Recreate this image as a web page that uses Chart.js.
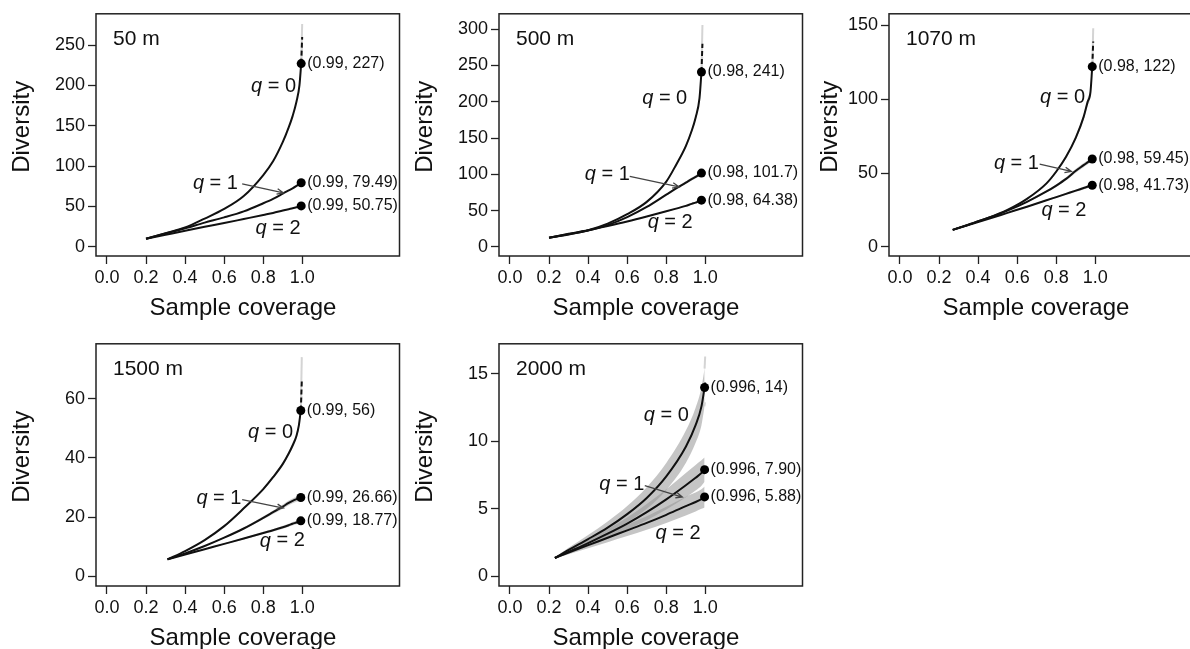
<!DOCTYPE html>
<html>
<head>
<meta charset="utf-8">
<script src="https://cdn.jsdelivr.net/npm/chart.js@4.4.1/dist/chart.umd.min.js"></script>
<style>
  html, body { margin: 0; padding: 0; background: #fff; overflow: hidden; }
  body { width: 1190px; height: 649px; position: relative; }
  .panel { position: absolute; width: 404px; height: 320px; }
</style>
</head>
<body>
<div class="panel" style="left:0px;top:0px"><canvas id="p50" width="404" height="320"></canvas></div>
<div class="panel" style="left:403px;top:0px"><canvas id="p500" width="404" height="320"></canvas></div>
<div class="panel" style="left:793px;top:0px"><canvas id="p1070" width="404" height="320"></canvas></div>
<div class="panel" style="left:0px;top:330px"><canvas id="p1500" width="404" height="320"></canvas></div>
<div class="panel" style="left:403px;top:330px"><canvas id="p2000" width="404" height="320"></canvas></div>
<script>
const FONT = '"Liberation Sans", Arial, Helvetica, sans-serif';
const X_TICKS = [0, 0.2, 0.4, 0.6, 0.8, 1.0];

// 50 m
const COV_50 = [0.2, 0.3, 0.4, 0.5, 0.6, 0.7, 0.8, 0.85, 0.9, 0.93, 0.95, 0.97, 0.985, 0.994];
const Q0_50 = [10, 17, 24, 35, 47, 63, 89, 106, 130, 148, 162, 180, 200, 227];
const Q1_50 = [10, 16.5, 23, 30, 36.5, 44, 54, 59.5, 66, 70, 72.5, 75.5, 78, 79.49];
const Q2_50 = [10, 15, 20, 24.8, 29.5, 34.5, 39.5, 42, 45, 46.7, 47.8, 49, 50, 50.75];
const EXT_COV_50 = [0.994, 0.999];
const EXT_Q0_50 = [227, 260];
const EXT_LO_50 = [227, 248];
const EXT_HI_50 = [227, 276];
const Y_TICKS_50 = [0, 50, 100, 150, 200, 250];
const END_LABELS_50 = ['(0.99, 227)', '(0.99, 79.49)', '(0.99, 50.75)'];

// 500 m
const COV_500 = [0.2, 0.3, 0.4, 0.5, 0.6, 0.7, 0.8, 0.85, 0.9, 0.93, 0.95, 0.97, 0.98];
const Q0_500 = [12.5, 17.5, 23, 32, 45, 62, 90, 113, 139, 160, 178, 205, 241];
const Q1_500 = [12.5, 17, 22.5, 30, 41, 55, 72, 80.5, 88.5, 93.5, 96.5, 100, 101.7];
const Q2_500 = [12.5, 18, 23, 28.8, 35, 41.8, 49, 52.7, 56.5, 59.3, 61, 63, 64.38];
const LO0_500 = [12.5, 17.4, 22.8, 31.7, 44.5, 61.2, 88.7, 111.2, 136.6, 157, 174.5, 201, 236];
const HI0_500 = [12.5, 17.6, 23.2, 32.3, 45.5, 62.8, 91.3, 114.8, 141.4, 163, 181.5, 209, 246];
const LO1_500 = [12.5, 16.9, 22.3, 29.6, 40.4, 54.1, 70.7, 78.9, 86.6, 91.4, 94.3, 97.6, 99.2];
const HI1_500 = [12.5, 17.1, 22.7, 30.4, 41.6, 55.9, 73.3, 82.1, 90.4, 95.6, 98.7, 102.4, 104.2];
const LO2_500 = [12.5, 17.9, 22.8, 28.5, 34.6, 41.2, 48.2, 51.8, 55.4, 58.1, 59.7, 61.6, 62.9];
const HI2_500 = [12.5, 18.1, 23.2, 29.1, 35.4, 42.4, 49.8, 53.6, 57.6, 60.5, 62.3, 64.4, 65.9];
const EXT_COV_500 = [0.98, 0.985];
const EXT_Q0_500 = [241, 280];
const EXT_LO_500 = [241, 262];
const EXT_HI_500 = [241, 306];
const Y_TICKS_500 = [0, 50, 100, 150, 200, 250, 300];
const END_LABELS_500 = ['(0.98, 241)', '(0.98, 101.7)', '(0.98, 64.38)'];

// 1070 m
const COV_1070 = [0.27, 0.35, 0.45, 0.55, 0.65, 0.75, 0.8, 0.85, 0.9, 0.94, 0.96, 0.975, 0.984];
const Q0_1070 = [11.5, 15, 19.5, 25, 32.5, 43, 51, 61, 74, 88, 98, 105, 122];
const Q1_1070 = [11.5, 15, 19.5, 24.5, 30.5, 37.5, 41.5, 46, 51.5, 55.3, 57.2, 58.6, 59.45];
const Q2_1070 = [11.5, 14.7, 18.8, 23, 27.2, 31.5, 33.7, 35.9, 38.1, 39.8, 40.7, 41.3, 41.73];
const LO0_1070 = [11.5, 14.9, 19.3, 24.7, 32, 42.2, 50, 59.8, 72.5, 86, 95.5, 102, 118];
const HI0_1070 = [11.5, 15.1, 19.7, 25.3, 33, 43.8, 52, 62.2, 75.5, 90, 100.5, 108, 126];
const LO1_1070 = [11.5, 14.9, 19.3, 24.2, 30, 36.8, 40.6, 44.9, 50.2, 53.9, 55.7, 57.1, 57.9];
const HI1_1070 = [11.5, 15.1, 19.7, 24.8, 31, 38.2, 42.4, 47.1, 52.8, 56.7, 58.7, 60.1, 61.0];
const LO2_1070 = [11.5, 14.6, 18.6, 22.7, 26.8, 31, 33.1, 35.2, 37.3, 38.9, 39.7, 40.3, 40.7];
const HI2_1070 = [11.5, 14.8, 19.0, 23.3, 27.6, 32, 34.3, 36.6, 38.9, 40.7, 41.7, 42.3, 42.8];
const EXT_COV_1070 = [0.984, 0.989];
const EXT_Q0_1070 = [122, 139];
const EXT_LO_1070 = [122, 131];
const EXT_HI_1070 = [122, 148];
const Y_TICKS_1070 = [0, 50, 100, 150];
const END_LABELS_1070 = ['(0.98, 122)', '(0.98, 59.45)', '(0.98, 41.73)'];

// 1500 m
const COV_1500 = [0.31, 0.4, 0.5, 0.6, 0.7, 0.8, 0.85, 0.9, 0.93, 0.95, 0.97, 0.982, 0.992];
const Q0_1500 = [5.8, 8.6, 12.3, 17, 23, 29.5, 33.5, 38, 41.5, 44.2, 47.5, 51, 56];
const Q1_1500 = [5.8, 7.8, 10.3, 13.1, 16.2, 19.8, 21.7, 23.6, 24.8, 25.5, 26.1, 26.4, 26.66];
const Q2_1500 = [5.8, 7.4, 9.2, 11, 12.8, 14.7, 15.6, 16.6, 17.3, 17.8, 18.2, 18.5, 18.77];
const LO0_1500 = [5.8, 8.55, 12.2, 16.8, 22.7, 29.1, 33, 37.4, 40.8, 43.4, 46.6, 50, 54.8];
const HI0_1500 = [5.8, 8.65, 12.4, 17.2, 23.3, 29.9, 34, 38.6, 42.2, 45, 48.4, 52, 57.2];
const LO1_1500 = [5.8, 7.75, 10.2, 12.9, 15.9, 19.3, 21.1, 22.9, 24.0, 24.7, 25.2, 25.5, 25.8];
const HI1_1500 = [5.8, 7.85, 10.4, 13.3, 16.5, 20.3, 22.3, 24.3, 25.6, 26.3, 27.0, 27.3, 27.5];
const LO2_1500 = [5.8, 7.37, 9.1, 10.8, 12.5, 14.3, 15.2, 16.1, 16.8, 17.2, 17.6, 17.9, 18.2];
const HI2_1500 = [5.8, 7.43, 9.3, 11.2, 13.1, 15.1, 16.0, 17.1, 17.8, 18.4, 18.8, 19.1, 19.35];
const EXT_COV_1500 = [0.992, 0.997];
const EXT_Q0_1500 = [56, 65.8];
const EXT_LO_1500 = [56, 61];
const EXT_HI_1500 = [56, 74];
const Y_TICKS_1500 = [0, 20, 40, 60];
const END_LABELS_1500 = ['(0.99, 56)', '(0.99, 26.66)', '(0.99, 18.77)'];

// 2000 m
const COV_2000 = [0.23, 0.3, 0.4, 0.5, 0.6, 0.7, 0.8, 0.9, 0.95, 0.98, 0.996];
const Q0_2000 = [1.35, 1.95, 2.75, 3.6, 4.6, 5.8, 7.4, 9.6, 11.2, 12.6, 14];
const Q1_2000 = [1.35, 1.8, 2.45, 3.15, 3.9, 4.75, 5.7, 6.75, 7.3, 7.65, 7.9];
const Q2_2000 = [1.35, 1.75, 2.3, 2.85, 3.4, 3.95, 4.55, 5.2, 5.5, 5.72, 5.88];
const LO0_2000 = [1.3, 1.8, 2.45, 3.15, 4.0, 5.0, 6.4, 8.4, 9.9, 11.2, 12.6];
const HI0_2000 = [1.4, 2.1, 3.05, 4.05, 5.2, 6.6, 8.4, 10.8, 12.5, 14.0, 15.4];
const LO1_2000 = [1.3, 1.66, 2.2, 2.8, 3.45, 4.15, 4.95, 5.85, 6.35, 6.7, 7.0];
const HI1_2000 = [1.4, 1.94, 2.7, 3.5, 4.35, 5.35, 6.45, 7.65, 8.25, 8.6, 8.8];
const LO2_2000 = [1.3, 1.62, 2.08, 2.52, 2.98, 3.45, 3.95, 4.5, 4.8, 5.0, 5.1];
const HI2_2000 = [1.4, 1.88, 2.52, 3.18, 3.82, 4.45, 5.15, 5.9, 6.2, 6.45, 6.65];
const EXT_COV_2000 = [0.996, 0.999];
const EXT_Q0_2000 = [14, 14.4];
const EXT_LO_2000 = [12.6, 12.9];
const EXT_HI_2000 = [15.4, 16.3];
const Y_TICKS_2000 = [0, 5, 10, 15];
const END_LABELS_2000 = ['(0.996, 14)', '(0.996, 7.90)', '(0.996, 5.88)'];

// layout of each panel (label spots are in data units)
const PANELS = [
  { id: 'p50', title: '50 m', yMin: -11.3, yMax: 288.7, yTitleDx: 73.5,
    cov: COV_50, q: [Q0_50, Q1_50, Q2_50], bands: null, bandColor: null,
    ext: [EXT_COV_50, EXT_Q0_50, EXT_LO_50, EXT_HI_50], yTicks: Y_TICKS_50, endLabels: END_LABELS_50,
    qPos: [[0.853, 198.4], [0.555, 79], [0.876, 23.2]], arrow: [[0.692, 78], [0.903, 67]] },
  { id: 'p500', title: '500 m', yMin: -12.6, yMax: 321.3, yTitleDx: 74,
    cov: COV_500, q: [Q0_500, Q1_500, Q2_500],
    bands: [[LO0_500, HI0_500], [LO1_500, HI1_500], [LO2_500, HI2_500]], bandColor: 'rgba(150,150,150,0.45)',
    ext: [EXT_COV_500, EXT_Q0_500, EXT_LO_500, EXT_HI_500], yTicks: Y_TICKS_500, endLabels: END_LABELS_500,
    qPos: [[0.792, 204.6], [0.498, 99.6], [0.82, 33]], arrow: [[0.613, 97.3], [0.865, 82.8]] },
  { id: 'p1070', title: '1070 m', yMin: -6.2, yMax: 157.8, yTitleDx: 59,
    cov: COV_1070, q: [Q0_1070, Q1_1070, Q2_1070],
    bands: [[LO0_1070, HI0_1070], [LO1_1070, HI1_1070], [LO2_1070, HI2_1070]], bandColor: 'rgba(150,150,150,0.45)',
    ext: [EXT_COV_1070, EXT_Q0_1070, EXT_LO_1070, EXT_HI_1070], yTicks: Y_TICKS_1070, endLabels: END_LABELS_1070,
    qPos: [[0.832, 101], [0.596, 56.7], [0.839, 24.5]], arrow: [[0.715, 56], [0.877, 51.1]] },
  { id: 'p1500', title: '1500 m', yMin: -3.2, yMax: 78.5, yTitleDx: 73.5,
    cov: COV_1500, q: [Q0_1500, Q1_1500, Q2_1500],
    bands: [[LO0_1500, HI0_1500], [LO1_1500, HI1_1500], [LO2_1500, HI2_1500]], bandColor: 'rgba(150,150,150,0.45)',
    ext: [EXT_COV_1500, EXT_Q0_1500, EXT_LO_1500, EXT_HI_1500], yTicks: Y_TICKS_1500, endLabels: END_LABELS_1500,
    qPos: [[0.837, 48.6], [0.573, 26.4], [0.897, 12]], arrow: [[0.692, 25.9], [0.903, 23.1]] },
  { id: 'p2000', title: '2000 m', yMin: -0.73, yMax: 17.24, yTitleDx: 74,
    cov: COV_2000, q: [Q0_2000, Q1_2000, Q2_2000],
    bands: [[LO0_2000, HI0_2000], [LO1_2000, HI1_2000], [LO2_2000, HI2_2000]], bandColor: 'rgba(150,150,150,0.55)',
    ext: [EXT_COV_2000, EXT_Q0_2000, EXT_LO_2000, EXT_HI_2000], yTicks: Y_TICKS_2000, endLabels: END_LABELS_2000,
    qPos: [[0.80, 11.9], [0.572, 6.8], [0.86, 3.16]], arrow: [[0.69, 6.72], [0.882, 5.87]] }
];

const pts = (xs, ys) => xs.map((x, i) => ({ x, y: ys[i] }));

const decor = {
  id: 'decor',
  afterDatasetsDraw(chart, args, o) {
    const { ctx, chartArea: a } = chart;
    const sx = chart.scales.x, sy = chart.scales.y;
    ctx.save();
    ctx.strokeStyle = '#222';
    ctx.lineWidth = 1.5;
    ctx.strokeRect(a.left, a.top, a.right - a.left, a.bottom - a.top);

    ctx.fillStyle = '#111';
    ctx.textAlign = 'left';
    ctx.textBaseline = 'alphabetic';
    ctx.font = '21px ' + FONT;
    ctx.fillText(o.title, a.left + 17, a.top + 31);

    ctx.font = '24px ' + FONT;
    ctx.textAlign = 'center';
    ctx.fillText('Sample coverage', a.left + 147, a.bottom + 59);
    ctx.save();
    ctx.translate(a.left - o.yTitleDx, a.top + 113);
    ctx.rotate(-Math.PI / 2);
    ctx.textBaseline = 'middle';
    ctx.fillText('Diversity', 0, 0);
    ctx.restore();

    // q = 0, 1, 2
    ctx.textBaseline = 'middle';
    ctx.textAlign = 'left';
    o.qPos.forEach(([qx, qy], i) => {
      const px = sx.getPixelForValue(qx), py = sy.getPixelForValue(qy);
      const rest = ' = ' + i;
      ctx.font = 'italic 20px ' + FONT;
      const w1 = ctx.measureText('q').width;
      ctx.font = '20px ' + FONT;
      const w2 = ctx.measureText(rest).width;
      const x0 = px - (w1 + w2) / 2;
      ctx.font = 'italic 20px ' + FONT;
      ctx.fillText('q', x0, py);
      ctx.font = '20px ' + FONT;
      ctx.fillText(rest, x0 + w1, py);
    });

    // arrow to q = 1
    const [[ax, ay], [bx, by]] = o.arrow;
    const x1 = sx.getPixelForValue(ax), y1 = sy.getPixelForValue(ay);
    const x2 = sx.getPixelForValue(bx), y2 = sy.getPixelForValue(by);
    const ang = Math.atan2(y2 - y1, x2 - x1);
    ctx.strokeStyle = '#444';
    ctx.lineWidth = 1.3;
    ctx.beginPath();
    ctx.moveTo(x1, y1);
    ctx.lineTo(x2, y2);
    ctx.moveTo(x2 - 7 * Math.cos(ang - 0.4), y2 - 7 * Math.sin(ang - 0.4));
    ctx.lineTo(x2, y2);
    ctx.lineTo(x2 - 7 * Math.cos(ang + 0.4), y2 - 7 * Math.sin(ang + 0.4));
    ctx.stroke();

    // end point labels
    ctx.fillStyle = '#111';
    ctx.font = '16px ' + FONT;
    o.endLabels.forEach((t, i) => {
      const vals = o.q[i];
      const px = sx.getPixelForValue(o.cov[o.cov.length - 1]);
      const py = sy.getPixelForValue(vals[vals.length - 1]);
      ctx.fillText(t, px + 6, py);
    });
    ctx.restore();
  }
};

PANELS.forEach(p => {
  const datasets = [];
  if (p.bands) {
    p.bands.forEach(([lo, hi]) => {
      datasets.push({ data: pts(p.cov, lo), borderWidth: 0, pointRadius: 0, fill: false,
        cubicInterpolationMode: 'monotone', order: 4 });
      datasets.push({ data: pts(p.cov, hi), borderWidth: 0, pointRadius: 0, fill: '-1',
        backgroundColor: p.bandColor, cubicInterpolationMode: 'monotone', order: 4 });
    });
  }
  const [ec, eq, elo, ehi] = p.ext;
  datasets.push({ data: pts(ec, elo), borderColor: '#d4d4d4', borderWidth: 1.5, pointRadius: 0, fill: false, order: 3 });
  datasets.push({ data: pts(ec, ehi), borderColor: '#d4d4d4', borderWidth: 2, pointRadius: 0,
    fill: '-1', backgroundColor: 'rgba(200,200,200,0.6)', order: 3 });
  datasets.push({ data: pts(ec, eq), borderColor: '#111', borderWidth: 2, borderDash: [5, 3],
    pointRadius: 0, fill: false, order: 2 });
  p.q.forEach(vals => {
    datasets.push({ data: pts(p.cov, vals), borderColor: '#111', borderWidth: 2, pointRadius: 0,
      fill: false, cubicInterpolationMode: 'monotone', order: 1 });
  });
  const last = p.cov[p.cov.length - 1];
  datasets.push({ type: 'scatter', data: p.q.map(v => ({ x: last, y: v[v.length - 1] })),
    pointRadius: 4.5, pointBackgroundColor: '#000', pointBorderWidth: 0, order: 0 });

  new Chart(document.getElementById(p.id), {
    type: 'line',
    data: { datasets },
    options: {
      responsive: false,
      animation: false,
      events: [],
      layout: { padding: { left: 0, right: 4, top: 10, bottom: 0 } },
      scales: {
        x: {
          type: 'linear', min: -0.056, max: 1.497,
          afterBuildTicks: s => { s.ticks = X_TICKS.map(v => ({ value: v })); },
          afterFit: s => { s.height = 64; },
          grid: { drawOnChartArea: false, drawTicks: true, tickLength: 8, tickColor: '#222', tickWidth: 1.3 },
          border: { display: false },
          ticks: { padding: 3, color: '#111', font: { family: FONT, size: 18 }, maxRotation: 0,
            callback: v => v.toFixed(1) }
        },
        y: {
          type: 'linear', min: p.yMin, max: p.yMax,
          afterBuildTicks: s => { s.ticks = p.yTicks.map(v => ({ value: v })); },
          afterFit: s => { s.width = 96; },
          grid: { drawOnChartArea: false, drawTicks: true, tickLength: 8, tickColor: '#222', tickWidth: 1.3 },
          border: { display: false },
          ticks: { padding: 3, color: '#111', font: { family: FONT, size: 18 }, callback: v => String(v) }
        }
      },
      plugins: {
        legend: { display: false },
        tooltip: { enabled: false },
        decor: p
      }
    },
    plugins: [decor]
  });
});
</script>
</body>
</html>
